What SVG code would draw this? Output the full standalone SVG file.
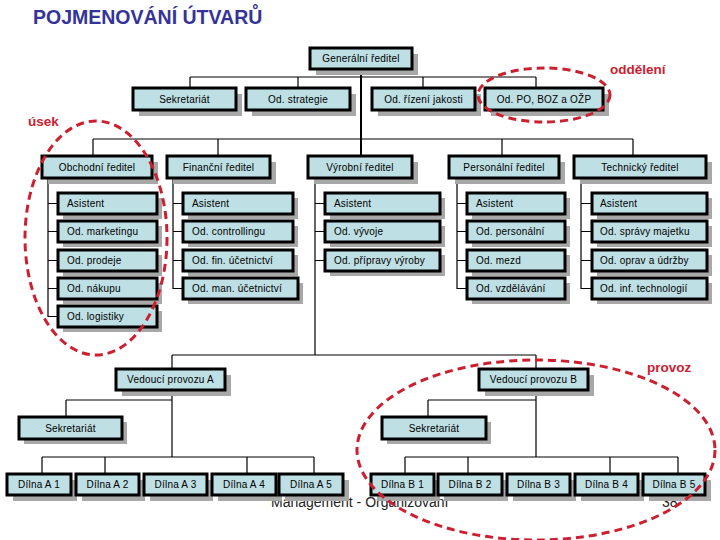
<svg xmlns="http://www.w3.org/2000/svg" width="720" height="540" viewBox="0 0 720 540">
<style>
.sh{fill:#A8A8A8}
.bx{fill:#BEDFE3;stroke:#000;stroke-width:3}
.t{font-family:"Liberation Sans",Arial,sans-serif;font-size:10px;fill:#000;text-anchor:middle;letter-spacing:0.2px}
.tl{font-family:"Liberation Sans",Arial,sans-serif;font-size:10px;fill:#000;letter-spacing:0.2px}
.c{stroke:#000;stroke-width:1.2;fill:none}
.el{fill:none;stroke:#CC2030;stroke-width:3;stroke-dasharray:8 5}
.lab{font-family:"Liberation Sans",Arial,sans-serif;font-size:13.5px;font-weight:bold;fill:#CC2030}
</style>
<rect width="720" height="540" fill="#fff"/>
<text x="33" y="24" font-family="Liberation Sans, Arial, sans-serif" font-size="19.5" font-weight="bold" fill="#333399">POJMENOVÁNÍ ÚTVARŮ</text>
<text x="271" y="507" font-family="Liberation Sans, Arial, sans-serif" font-size="14" fill="#222">Management - Organizování</text>
<text x="662" y="507" font-family="Liberation Sans, Arial, sans-serif" font-size="14" fill="#222">38</text>

<g id="connectors">
<path class="c" d="M190 77H536M190 77V88M298 77V88M423 77V88M536 77V88"/>
<path stroke="#000" stroke-width="2" fill="none" d="M361 69V156"/>
<path class="c" d="M93 139H633M93 139V156M218 139V156M502 139V156M633 139V156"/>
<path class="c" d="M48 178V317M48 203.5H58M48 231.5H58M48 260.5H58M48 288.5H58M48 316.5H58"/>
<path class="c" d="M173 178V289M173 203.5H183M173 231.5H183M173 260.5H183M173 288.5H183"/>
<path class="c" d="M315 178V355M315 203.5H325M315 231.5H325M315 260.5H325"/>
<path class="c" d="M457 178V289M457 203.5H467M457 231.5H467M457 260.5H467M457 288.5H467"/>
<path class="c" d="M581 178V289M581 203.5H592M581 231.5H592M581 260.5H592M581 288.5H592"/>
<path class="c" d="M172 355H536M172 355V369M536 355V369"/>
<path class="c" d="M172 390V457M66 400H172M66 400V417M42 457H314M42 457V474M105 457V474M247 457V474M314 457V474"/>
<path class="c" d="M536 390V457M428 400H536M428 400V417M405 457H678M405 457V474M468 457V474M610 457V474M678 457V474"/>
</g>

<g id="n_gen"><rect class="sh" x="316" y="54" width="102" height="21"/><rect class="bx" x="310" y="48" width="102" height="21"/><text class="t" x="361" y="62">Generální ředitel</text></g>
<g id="n_sek"><rect class="sh" x="139" y="94" width="103" height="22"/><rect class="bx" x="133" y="88" width="103" height="22"/><text class="t" x="184.5" y="102.5">Sekretariát</text></g>
<g id="n_str"><rect class="sh" x="252" y="94" width="104" height="22"/><rect class="bx" x="246" y="88" width="104" height="22"/><text class="t" x="298" y="102.5">Od. strategie</text></g>
<g id="n_rj"><rect class="sh" x="378" y="94" width="103" height="22"/><rect class="bx" x="372" y="88" width="103" height="22"/><text class="t" x="423.5" y="102.5">Od. řízení jakosti</text></g>
<g id="n_po"><rect class="sh" x="491" y="94" width="118" height="22"/><rect class="bx" x="485" y="88" width="118" height="22"/><text class="t" x="544" y="102.5">Od. PO, BOZ a OŽP</text></g>

<g id="n_obch"><rect class="sh" x="48" y="162" width="110" height="22"/><rect class="bx" x="42" y="156" width="110" height="22"/><text class="t" x="97" y="170.5">Obchodní ředitel</text></g>
<g id="n_fin"><rect class="sh" x="173" y="162" width="103" height="22"/><rect class="bx" x="167" y="156" width="103" height="22"/><text class="t" x="218.5" y="170.5">Finanční ředitel</text></g>
<g id="n_vyr"><rect class="sh" x="314" y="162" width="104" height="22"/><rect class="bx" x="308" y="156" width="104" height="22"/><text class="t" x="360" y="170.5">Výrobní ředitel</text></g>
<g id="n_pers"><rect class="sh" x="455" y="162" width="110" height="22"/><rect class="bx" x="449" y="156" width="110" height="22"/><text class="t" x="504" y="170.5">Personální ředitel</text></g>
<g id="n_tech"><rect class="sh" x="580" y="162" width="132" height="22"/><rect class="bx" x="574" y="156" width="132" height="22"/><text class="t" x="640" y="170.5">Technický ředitel</text></g>

<g id="n_o1"><rect class="sh" x="63" y="198" width="99" height="21"/><rect class="bx" x="58" y="193" width="99" height="21"/><text class="tl" x="67" y="207">Asistent</text></g>
<g id="n_o2"><rect class="sh" x="63" y="226" width="99" height="21"/><rect class="bx" x="58" y="221" width="99" height="21"/><text class="tl" x="67" y="235">Od. marketingu</text></g>
<g id="n_o3"><rect class="sh" x="63" y="255" width="99" height="21"/><rect class="bx" x="58" y="250" width="99" height="21"/><text class="tl" x="67" y="264">Od. prodeje</text></g>
<g id="n_o4"><rect class="sh" x="63" y="283" width="99" height="21"/><rect class="bx" x="58" y="278" width="99" height="21"/><text class="tl" x="67" y="292">Od. nákupu</text></g>
<g id="n_o5"><rect class="sh" x="63" y="311" width="99" height="21"/><rect class="bx" x="58" y="306" width="99" height="21"/><text class="tl" x="67" y="320">Od. logistiky</text></g>

<g id="n_f1"><rect class="sh" x="188" y="198" width="110" height="21"/><rect class="bx" x="183" y="193" width="110" height="21"/><text class="tl" x="192" y="207">Asistent</text></g>
<g id="n_f2"><rect class="sh" x="188" y="226" width="110" height="21"/><rect class="bx" x="183" y="221" width="110" height="21"/><text class="tl" x="192" y="235">Od. controllingu</text></g>
<g id="n_f3"><rect class="sh" x="188" y="255" width="110" height="21"/><rect class="bx" x="183" y="250" width="110" height="21"/><text class="tl" x="192" y="264">Od. fin. účetnictví</text></g>
<g id="n_f4"><rect class="sh" x="188" y="283" width="115" height="21"/><rect class="bx" x="183" y="278" width="115" height="21"/><text class="tl" x="192" y="292">Od. man. účetnictví</text></g>

<g id="n_v1"><rect class="sh" x="330" y="198" width="115" height="21"/><rect class="bx" x="325" y="193" width="115" height="21"/><text class="tl" x="334" y="207">Asistent</text></g>
<g id="n_v2"><rect class="sh" x="330" y="226" width="115" height="21"/><rect class="bx" x="325" y="221" width="115" height="21"/><text class="tl" x="334" y="235">Od. vývoje</text></g>
<g id="n_v3"><rect class="sh" x="330" y="255" width="115" height="21"/><rect class="bx" x="325" y="250" width="115" height="21"/><text class="tl" x="334" y="264">Od. přípravy výroby</text></g>

<g id="n_p1"><rect class="sh" x="472" y="198" width="98" height="21"/><rect class="bx" x="467" y="193" width="98" height="21"/><text class="tl" x="476" y="207">Asistent</text></g>
<g id="n_p2"><rect class="sh" x="472" y="226" width="98" height="21"/><rect class="bx" x="467" y="221" width="98" height="21"/><text class="tl" x="476" y="235">Od. personální</text></g>
<g id="n_p3"><rect class="sh" x="472" y="255" width="98" height="21"/><rect class="bx" x="467" y="250" width="98" height="21"/><text class="tl" x="476" y="264">Od. mezd</text></g>
<g id="n_p4"><rect class="sh" x="472" y="283" width="98" height="21"/><rect class="bx" x="467" y="278" width="98" height="21"/><text class="tl" x="476" y="292">Od. vzdělávání</text></g>

<g id="n_t1"><rect class="sh" x="597" y="198" width="115" height="21"/><rect class="bx" x="592" y="193" width="115" height="21"/><text class="tl" x="600" y="207">Asistent</text></g>
<g id="n_t2"><rect class="sh" x="597" y="226" width="115" height="21"/><rect class="bx" x="592" y="221" width="115" height="21"/><text class="tl" x="600" y="235">Od. správy majetku</text></g>
<g id="n_t3"><rect class="sh" x="597" y="255" width="115" height="21"/><rect class="bx" x="592" y="250" width="115" height="21"/><text class="tl" x="600" y="264">Od. oprav a údržby</text></g>
<g id="n_t4"><rect class="sh" x="597" y="283" width="115" height="21"/><rect class="bx" x="592" y="278" width="115" height="21"/><text class="tl" x="600" y="292">Od. inf. technologií</text></g>

<g id="n_va"><rect class="sh" x="122" y="375" width="109" height="21"/><rect class="bx" x="116" y="369" width="109" height="21"/><text class="t" x="170.5" y="383">Vedoucí provozu A</text></g>
<g id="n_vb"><rect class="sh" x="485" y="375" width="109" height="21"/><rect class="bx" x="479" y="369" width="109" height="21"/><text class="t" x="533.5" y="383">Vedoucí provozu B</text></g>
<g id="n_seka"><rect class="sh" x="24" y="422" width="103" height="22"/><rect class="bx" x="19" y="417" width="103" height="22"/><text class="t" x="70.5" y="431.5">Sekretariát</text></g>
<g id="n_sekb"><rect class="sh" x="387" y="422" width="104" height="22"/><rect class="bx" x="382" y="417" width="104" height="22"/><text class="t" x="434" y="431.5">Sekretariát</text></g>

<g id="n_a1"><rect class="sh" x="13" y="480" width="64" height="21"/><rect class="bx" x="7" y="474" width="64" height="21"/><text class="t" x="39" y="488">Dílna A 1</text></g>
<g id="n_a2"><rect class="sh" x="82" y="480" width="63" height="21"/><rect class="bx" x="76" y="474" width="63" height="21"/><text class="t" x="107.5" y="488">Dílna A 2</text></g>
<g id="n_a3"><rect class="sh" x="150" y="480" width="63" height="21"/><rect class="bx" x="144" y="474" width="63" height="21"/><text class="t" x="175.5" y="488">Dílna A 3</text></g>
<g id="n_a4"><rect class="sh" x="218" y="480" width="64" height="21"/><rect class="bx" x="212" y="474" width="64" height="21"/><text class="t" x="244" y="488">Dílna A 4</text></g>
<g id="n_a5"><rect class="sh" x="285" y="480" width="64" height="21"/><rect class="bx" x="279" y="474" width="64" height="21"/><text class="t" x="311" y="488">Dílna A 5</text></g>

<g id="n_b1"><rect class="sh" x="377" y="480" width="63" height="21"/><rect class="bx" x="371" y="474" width="63" height="21"/><text class="t" x="402.5" y="488">Dílna B 1</text></g>
<g id="n_b2"><rect class="sh" x="444" y="480" width="64" height="21"/><rect class="bx" x="438" y="474" width="64" height="21"/><text class="t" x="470" y="488">Dílna B 2</text></g>
<g id="n_b3"><rect class="sh" x="513" y="480" width="63" height="21"/><rect class="bx" x="507" y="474" width="63" height="21"/><text class="t" x="538.5" y="488">Dílna B 3</text></g>
<g id="n_b4"><rect class="sh" x="581" y="480" width="63" height="21"/><rect class="bx" x="575" y="474" width="63" height="21"/><text class="t" x="606.5" y="488">Dílna B 4</text></g>
<g id="n_b5"><rect class="sh" x="649" y="480" width="62" height="21"/><rect class="bx" x="643" y="474" width="62" height="21"/><text class="t" x="674" y="488">Dílna B 5</text></g>

<g id="annotations">
<ellipse class="el" cx="96" cy="238" rx="71" ry="117"/>
<ellipse class="el" cx="544" cy="95" rx="66" ry="27"/>
<ellipse class="el" cx="536" cy="450" rx="179" ry="90"/>
<text class="lab" x="28" y="126">úsek</text>
<text class="lab" x="610" y="74">oddělení</text>
<text class="lab" x="647" y="372">provoz</text>
</g>
</svg>
